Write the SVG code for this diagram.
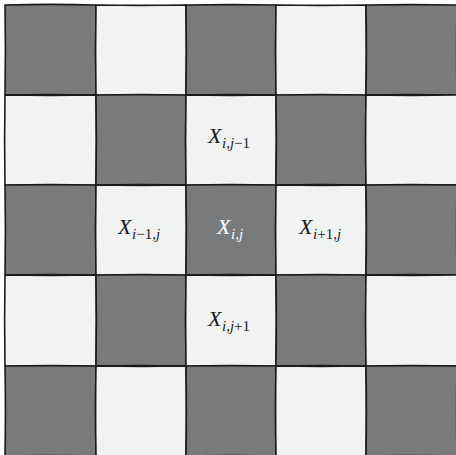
<svg xmlns="http://www.w3.org/2000/svg" width="456" height="455" viewBox="0 0 456 455">
<style>
.d{fill:#797a7c}
.l{fill:#f1f2f2}
.e{fill:none;stroke:#1a1a1a;stroke-width:1.6;stroke-linejoin:round}
.t{font-family:"Liberation Serif","Times New Roman",serif;font-style:italic;fill:#1a1a1a}
.w{fill:#ffffff}
.big{font-size:22px}
.sm{font-size:15px}
.u{font-style:normal}
</style>
<rect x="0" y="0" width="456" height="455" fill="#ffffff"/>
<g id="cells">
<g id="c00"><rect class="d" x="5" y="5" width="91" height="90"/><path class="e" d="M5,5 Q50,3.8 96,5 Q95.2,50 96,95 Q50,94.2 5,95 Q5.8,50 5,5Z"/></g>
<g id="c01"><rect class="l" x="96" y="5" width="90" height="90"/><path class="e" d="M96,5 Q141,5.8 186,5 Q186.8,50 186,95 Q141,95.8 96,95 Q95.2,50 96,5Z"/></g>
<g id="c02"><rect class="d" x="186" y="5" width="90" height="90"/><path class="e" d="M186,5 Q231,4.2 276,5 Q275.2,50 276,95 Q231,94.2 186,95 Q186.8,50 186,5Z"/></g>
<g id="c03"><rect class="l" x="276" y="5" width="90" height="90"/><path class="e" d="M276,5 Q321,5.8 366,5 Q366.8,50 366,95 Q321,95.8 276,95 Q275.2,50 276,5Z"/></g>
<g id="c04"><rect class="d" x="366" y="5" width="91" height="90"/><path class="e" d="M366,5 Q411,4.2 457,5 Q456.2,50 457,95 Q411,94.2 366,95 Q366.8,50 366,5Z"/></g>

<g id="c10"><rect class="l" x="5" y="95" width="91" height="90"/><path class="e" d="M5,95 Q50,95.8 96,95 Q96.8,140 96,185 Q50,185.8 5,185 Q4.2,140 5,95Z"/></g>
<g id="c11"><rect class="d" x="96" y="95" width="90" height="90"/><path class="e" d="M96,95 Q141,94.2 186,95 Q185.2,140 186,185 Q141,184.2 96,185 Q96.8,140 96,95Z"/></g>
<g id="c12"><rect class="l" x="186" y="95" width="90" height="90"/><path class="e" d="M186,95 Q231,95.8 276,95 Q276.8,140 276,185 Q231,185.8 186,185 Q185.2,140 186,95Z"/>
<text class="t big" x="208" y="143">X</text><text class="t sm" x="222" y="148">i,j<tspan class="u">−1</tspan></text></g>
<g id="c13"><rect class="d" x="276" y="95" width="90" height="90"/><path class="e" d="M276,95 Q321,94.2 366,95 Q365.2,140 366,185 Q321,184.2 276,185 Q276.8,140 276,95Z"/></g>
<g id="c14"><rect class="l" x="366" y="95" width="91" height="90"/><path class="e" d="M366,95 Q411,95.8 457,95 Q457.8,140 457,185 Q411,185.8 366,185 Q365.2,140 366,95Z"/></g>

<g id="c20"><rect class="d" x="5" y="185" width="91" height="90"/><path class="e" d="M5,185 Q50,184.2 96,185 Q95.2,230 96,275 Q50,274.2 5,275 Q5.8,230 5,185Z"/></g>
<g id="c21"><rect class="l" x="96" y="185" width="90" height="90"/><path class="e" d="M96,185 Q141,185.8 186,185 Q186.8,230 186,275 Q141,275.8 96,275 Q95.2,230 96,185Z"/>
<text class="t big" x="118" y="234">X</text><text class="t sm" x="132" y="239">i<tspan class="u">−1</tspan>,j</text></g>
<g id="c22"><rect class="d" x="186" y="185" width="90" height="90"/><path class="e" d="M186,185 Q231,184.2 276,185 Q275.2,230 276,275 Q231,274.2 186,275 Q186.8,230 186,185Z"/>
<text class="t big w" x="217" y="234">X</text><text class="t sm w" x="231" y="239">i,j</text></g>
<g id="c23"><rect class="l" x="276" y="185" width="90" height="90"/><path class="e" d="M276,185 Q321,185.8 366,185 Q366.8,230 366,275 Q321,275.8 276,275 Q275.2,230 276,185Z"/>
<text class="t big" x="299" y="234">X</text><text class="t sm" x="313" y="239">i<tspan class="u">+1</tspan>,j</text></g>
<g id="c24"><rect class="d" x="366" y="185" width="91" height="90"/><path class="e" d="M366,185 Q411,184.2 457,185 Q456.2,230 457,275 Q411,274.2 366,275 Q366.8,230 366,185Z"/></g>

<g id="c30"><rect class="l" x="5" y="275" width="91" height="91"/><path class="e" d="M5,275 Q50,275.8 96,275 Q96.8,320 96,366 Q50,366.8 5,366 Q4.2,320 5,275Z"/></g>
<g id="c31"><rect class="d" x="96" y="275" width="90" height="91"/><path class="e" d="M96,275 Q141,274.2 186,275 Q185.2,320 186,366 Q141,365.2 96,366 Q96.8,320 96,275Z"/></g>
<g id="c32"><rect class="l" x="186" y="275" width="90" height="91"/><path class="e" d="M186,275 Q231,275.8 276,275 Q276.8,320 276,366 Q231,366.8 186,366 Q185.2,320 186,275Z"/>
<text class="t big" x="208" y="326">X</text><text class="t sm" x="222" y="331">i,j<tspan class="u">+1</tspan></text></g>
<g id="c33"><rect class="d" x="276" y="275" width="90" height="91"/><path class="e" d="M276,275 Q321,274.2 366,275 Q365.2,320 366,366 Q321,365.2 276,366 Q276.8,320 276,275Z"/></g>
<g id="c34"><rect class="l" x="366" y="275" width="91" height="91"/><path class="e" d="M366,275 Q411,275.8 457,275 Q457.8,320 457,366 Q411,366.8 366,366 Q365.2,320 366,275Z"/></g>

<g id="c40"><rect class="d" x="5" y="366" width="91" height="90"/><path class="e" d="M5,366 Q50,365.2 96,366 Q95.2,411 96,456 Q50,455.2 5,456 Q5.8,411 5,366Z"/></g>
<g id="c41"><rect class="l" x="96" y="366" width="90" height="90"/><path class="e" d="M96,366 Q141,366.8 186,366 Q186.8,411 186,456 Q141,456.8 96,456 Q95.2,411 96,366Z"/></g>
<g id="c42"><rect class="d" x="186" y="366" width="90" height="90"/><path class="e" d="M186,366 Q231,365.2 276,366 Q275.2,411 276,456 Q231,455.2 186,456 Q186.8,411 186,366Z"/></g>
<g id="c43"><rect class="l" x="276" y="366" width="90" height="90"/><path class="e" d="M276,366 Q321,366.8 366,366 Q366.8,411 366,456 Q321,456.8 276,456 Q275.2,411 276,366Z"/></g>
<g id="c44"><rect class="d" x="366" y="366" width="91" height="90"/><path class="e" d="M366,366 Q411,365.2 457,366 Q456.2,411 457,456 Q411,455.2 366,456 Q366.8,411 366,366Z"/></g>
</g>
<g id="connectors"></g>
</svg>
